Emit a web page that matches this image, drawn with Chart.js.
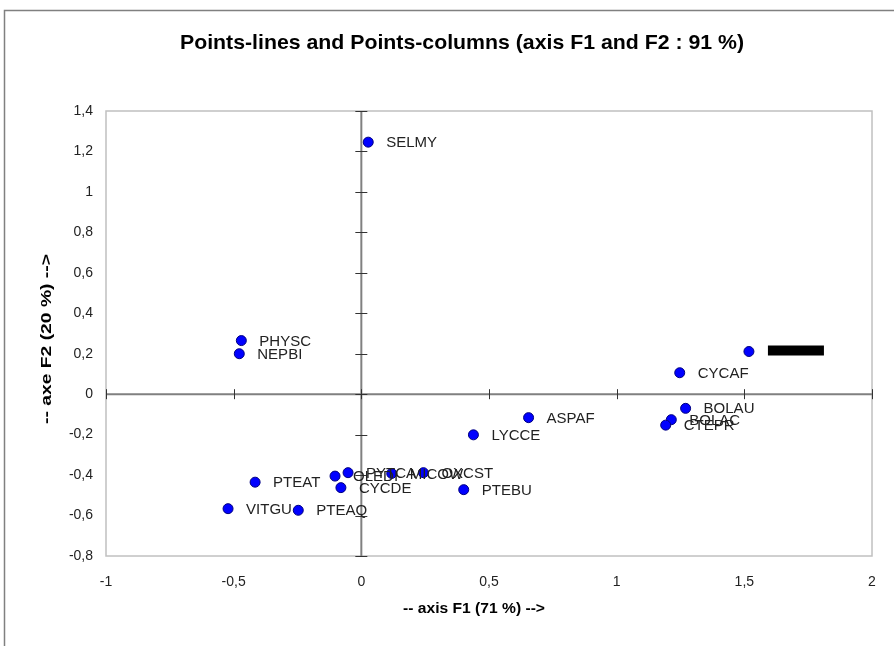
<!DOCTYPE html>
<html>
<head>
<meta charset="utf-8">
<script src="https://cdn.jsdelivr.net/npm/chart.js@4/dist/chart.umd.min.js"></script>
<style>
  html, body { margin: 0; padding: 0; background: #fff; }
  #wrap { width: 894px; height: 646px; position: relative; }
</style>
</head>
<body>
<div id="wrap"><canvas id="chart"></canvas></div>
<script>
// names of the points ('' = label hidden behind a black box in the source)
const names = ['SELMY', 'PHYSC', 'NEPBI', '', 'CYCAF', 'BOLAU', 'BOLAC', 'CTEPR', 'ASPAF', 'LYCCE',
  'PTEBU', 'OXCST', 'MICOW', 'PYTCA', 'OLEDI', 'CYCDE', 'PTEAT', 'VITGU', 'PTEAQ'];
const f1 = [0.027, -0.47, -0.478, 1.518, 1.247, 1.27, 1.214, 1.192, 0.655, 0.439,
  0.401, 0.243, 0.119, -0.052, -0.103, -0.08, -0.416, -0.522, -0.247];
const f2 = [1.246, 0.265, 0.20, 0.211, 0.106, -0.070, -0.126, -0.153, -0.116, -0.201,
  -0.472, -0.388, -0.392, -0.388, -0.405, -0.462, -0.435, -0.566, -0.574];
const xTicks = [-1, -0.5, 0, 0.5, 1, 1.5, 2];
const yTicks = [-0.8, -0.6, -0.4, -0.2, 0, 0.2, 0.4, 0.6, 0.8, 1, 1.2, 1.4];

const FONT = "'Liberation Sans', Arial, sans-serif";
const fmt = v => String(+Number(v).toFixed(1)).replace('.', ',');

// draws text squeezed/stretched to a given width
function fitText(ctx, text, x, y, width, font, rot) {
  ctx.save();
  ctx.font = font;
  const w = ctx.measureText(text).width;
  ctx.translate(x, y);
  if (rot) ctx.rotate(rot);
  ctx.scale(width / w, 1);
  ctx.textAlign = 'center';
  ctx.textBaseline = 'middle';
  ctx.fillStyle = '#000';
  ctx.fillText(text, 0, 0);
  ctx.restore();
}

const decor = {
  id: 'decor',
  beforeDraw(chart) {
    const { ctx, chartArea: a, scales: { x, y } } = chart;
    ctx.save();
    ctx.fillStyle = '#fff';
    ctx.fillRect(0, 0, chart.width, chart.height);
    // outer frame
    ctx.strokeStyle = '#808080';
    ctx.lineWidth = 1.5;
    ctx.beginPath();
    ctx.moveTo(4.5, 646);
    ctx.lineTo(4.5, 10.5);
    ctx.lineTo(894, 10.5);
    ctx.stroke();
    // plot frame
    ctx.strokeStyle = '#c0c0c0';
    ctx.lineWidth = 1.5;
    ctx.strokeRect(a.left, a.top, a.right - a.left, a.bottom - a.top);
    // zero axes
    const x0 = x.getPixelForValue(0), y0 = y.getPixelForValue(0);
    ctx.strokeStyle = '#808080';
    ctx.lineWidth = 2;
    ctx.beginPath();
    ctx.moveTo(a.left, y0); ctx.lineTo(a.right, y0);
    ctx.moveTo(x0, a.top); ctx.lineTo(x0, a.bottom);
    ctx.stroke();
    ctx.strokeStyle = '#333';
    ctx.lineWidth = 1;
    ctx.beginPath();
    xTicks.forEach(v => {
      const p = Math.round(x.getPixelForValue(v)) + 0.5;
      ctx.moveTo(p, y0 - 5); ctx.lineTo(p, y0 + 5);
    });
    yTicks.forEach(v => {
      const p = Math.round(y.getPixelForValue(v)) + 0.5;
      ctx.moveTo(x0 - 6, p); ctx.lineTo(x0 + 6, p);
    });
    ctx.stroke();
    ctx.restore();

    fitText(ctx, 'Points-lines and Points-columns (axis F1 and F2 : 91 %)', 462, 43, 564, 'bold 21px ' + FONT);
    fitText(ctx, '-- axis F1 (71 %) -->', 474, 609, 142, 'bold 15px ' + FONT);
    fitText(ctx, '-- axe F2 (20 %) -->', 47, 339, 170, 'bold 15px ' + FONT, -Math.PI / 2);
  },
  afterDatasetsDraw(chart) {
    const { ctx } = chart;
    const meta = chart.getDatasetMeta(0);
    ctx.save();
    ctx.font = '15px ' + FONT;
    ctx.fillStyle = '#222';
    ctx.textBaseline = 'middle';
    ctx.textAlign = 'left';
    meta.data.forEach((pt, i) => {
      if (names[i] === '') {
        ctx.fillStyle = '#000';
        ctx.fillRect(pt.x + 19, pt.y - 6, 56, 10);
        ctx.fillStyle = '#222';
      } else {
        ctx.fillText(names[i], pt.x + 18, pt.y + 1);
      }
    });
    ctx.restore();
  }
};

new Chart(document.getElementById('chart'), {
  type: 'scatter',
  data: {
    datasets: [{
      data: f1.map((v, i) => ({ x: v, y: f2[i] })),
      backgroundColor: '#0000ff',
      borderColor: '#000080',
      borderWidth: 1,
      pointRadius: 5
    }]
  },
  options: {
    responsive: true,
    maintainAspectRatio: false,
    animation: false,
    layout: { padding: { left: 0, top: 111, right: 22, bottom: 0 } },
    plugins: {
      legend: { display: false },
      tooltip: { enabled: false }
    },
    scales: {
      x: {
        type: 'linear', min: -1, max: 2,
        afterBuildTicks: s => { s.ticks = xTicks.map(v => ({ value: v })); },
        afterFit: s => { s.height = 90; },
        grid: { display: false, drawTicks: false },
        border: { display: false },
        ticks: { padding: 18, color: '#222', font: { family: FONT, size: 14 }, callback: fmt, maxRotation: 0, autoSkip: false }
      },
      y: {
        type: 'linear', min: -0.8, max: 1.4,
        afterBuildTicks: s => { s.ticks = yTicks.map(v => ({ value: v })); },
        afterFit: s => { s.width = 106; },
        grid: { display: false, drawTicks: false },
        border: { display: false },
        ticks: { padding: 13, color: '#222', font: { family: FONT, size: 14 }, callback: fmt, autoSkip: false }
      }
    }
  },
  plugins: [decor]
});
</script>
</body>
</html>
